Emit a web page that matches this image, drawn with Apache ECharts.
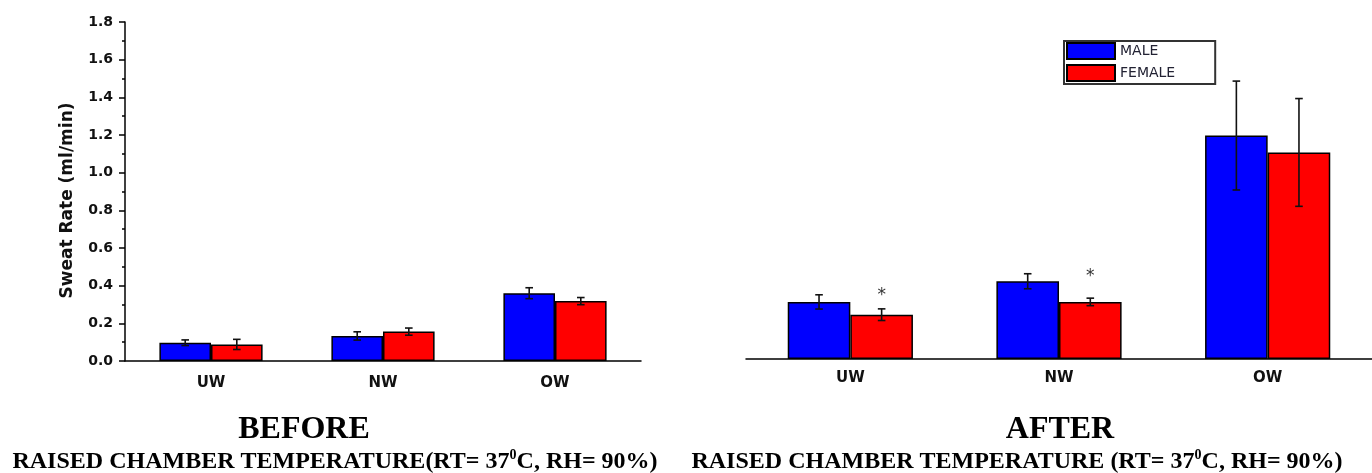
<!DOCTYPE html>
<html>
<head>
<meta charset="utf-8">
<script src="https://cdn.jsdelivr.net/npm/echarts@6/dist/echarts.min.js"></script>
<style>html,body{margin:0;padding:0;background:#fff}#chart{width:1372px;height:473px}</style>
</head>
<body>
<div id="chart"></div>
<script>
// ---- data ----
var categories = ['UW', 'NW', 'OW'];
var seriesNames = ['MALE', 'FEMALE'];
var beforeMale = [0.097, 0.133, 0.36];
var beforeMaleErr = [0.015, 0.022, 0.029];
var beforeFemale = [0.088, 0.156, 0.318];
var beforeFemaleErr = [0.027, 0.019, 0.019];
var afterMale = [0.304, 0.414, 1.19];
var afterMaleErr = [0.038, 0.04, 0.29];
var afterFemale = [0.236, 0.304, 1.10];
var afterFemaleErr = [0.031, 0.02, 0.287];
var afterStarPos = [0.353, 0.453, null];
var yMin = 0, yMax = 1.8, yStep = 0.2;
var yAxisName = 'Sweat Rate (ml/min)';
var titleBefore = 'BEFORE';
var titleAfter = 'AFTER';
var subLeftA = 'RAISED CHAMBER TEMPERATURE(RT= 37', subRightA = 'RAISED CHAMBER TEMPERATURE (RT= 37';
var subSup = '0';
var subB = 'C, RH= 90%)';

// ---- helpers ----
var BLUE = '#0000ff', RED = '#ff0000';
function errData(vals, errs) { return vals.map(function (v, i) { return [i, v, errs[i]]; }); }
function errRender(side) {
  return function (params, api) {
    var i = api.value(0), v = api.value(1), e = api.value(2);
    var bw = api.size([1, 0])[0];
    var x = api.coord([i, v])[0] + side * bw * 0.15;
    var yt = api.coord([i, v + e])[1];
    var yb = api.coord([i, v - e])[1];
    var c = 3.8;
    var st = { stroke: '#111', lineWidth: 1.6 };
    return { type: 'group', children: [
      { type: 'line', shape: { x1: x, y1: yt, x2: x, y2: yb }, style: st },
      { type: 'line', shape: { x1: x - c, y1: yt, x2: x + c, y2: yt }, style: st },
      { type: 'line', shape: { x1: x - c, y1: yb, x2: x + c, y2: yb }, style: st }
    ] };
  };
}
function starRender(params, api) {
  var i = api.value(0), v = api.value(1);
  var bw = api.size([1, 0])[0];
  var p = api.coord([i, v]);
  return { type: 'text', x: p[0] + bw * 0.15, y: p[1] + 3,
    style: { text: '*', fontSize: 17, fontFamily: 'DejaVu Sans', fill: '#333', align: 'center', verticalAlign: 'middle' } };
}
var starData = [];
afterStarPos.forEach(function (v, i) { if (v != null) starData.push([i, v]); });

var axisLineStyle = { color: '#000', width: 1.5 };
var xLabel = { fontFamily: 'DejaVu Sans', fontWeight: 'bold', fontSize: 15, color: '#111' };
function xMain(g, margin) {
  return { gridIndex: g, type: 'category', data: categories,
    axisLine: { lineStyle: axisLineStyle },
    axisTick: { alignWithLabel: true, length: 7, lineStyle: axisLineStyle },
    axisLabel: Object.assign({ margin: margin }, xLabel), splitLine: { show: false } };
}
function xMinor(g) {
  return { gridIndex: g, type: 'category', data: categories, position: 'bottom',
    axisLine: { show: false }, axisTick: { length: 2.5, lineStyle: axisLineStyle },
    axisLabel: { show: false }, splitLine: { show: false } };
}
var barStyle = function (c) { return { color: c, borderColor: '#000', borderWidth: 1.5 }; };

var sub = function (a) {
  return '{a|' + a + '}{s|' + subSup + '}{a|' + subB + '}';
};
var subRich = {
  a: { fontSize: 24, fontWeight: 'bold', fontFamily: 'Liberation Serif', fill: '#000', verticalAlign: 'bottom', lineHeight: 26 },
  s: { fontSize: 14, fontWeight: 'bold', fontFamily: 'Liberation Serif', fill: '#000', verticalAlign: 'top', lineHeight: 14 }
};

var option = {
  animation: false,
  backgroundColor: '#fff',
  grid: [
    { left: 125, top: 22, width: 516, height: 339 },
    { left: 746, top: 21, width: 633, height: 338 }
  ],
  legend: {
    data: seriesNames, orient: 'vertical', left: 1064, top: 41,
    itemWidth: 48, itemHeight: 16, itemGap: 4, icon: 'rect',
    padding: [1, 40, 2, 2], borderColor: '#333', borderWidth: 2,
    textStyle: { fontFamily: 'DejaVu Sans', fontSize: 14, color: '#223' }
  },
  xAxis: [xMain(0, 15), xMinor(0), xMain(1, 12), xMinor(1)],
  yAxis: [
    { gridIndex: 0, type: 'value', min: yMin, max: yMax, interval: yStep,
      name: yAxisName, nameLocation: 'middle', nameGap: 49,
      nameTextStyle: { fontFamily: 'DejaVu Sans', fontWeight: 'bold', fontSize: 17, color: '#111', padding: [0, 18, 0, 0] },
      axisLine: { show: true, lineStyle: axisLineStyle },
      axisTick: { show: true, length: 6, lineStyle: axisLineStyle },
      minorTick: { show: true, splitNumber: 2, length: 3, lineStyle: axisLineStyle },
      splitLine: { show: false },
      axisLabel: { margin: 12, fontFamily: 'DejaVu Sans', fontWeight: 'bold', fontSize: 14, color: '#111',
        formatter: function (v) { return v.toFixed(1); } } },
    { gridIndex: 1, type: 'value', min: yMin, max: yMax, interval: yStep, show: false, splitLine: { show: false } }
  ],
  series: [
    { name: seriesNames[0], type: 'bar', xAxisIndex: 0, yAxisIndex: 0, data: beforeMale, barGap: '0%', barCategoryGap: '40%', itemStyle: barStyle(BLUE) },
    { name: seriesNames[1], type: 'bar', xAxisIndex: 0, yAxisIndex: 0, data: beforeFemale, barGap: '0%', barCategoryGap: '40%', itemStyle: barStyle(RED) },
    { name: seriesNames[0], type: 'bar', xAxisIndex: 2, yAxisIndex: 1, data: afterMale, barGap: '0%', barCategoryGap: '40%', itemStyle: barStyle(BLUE) },
    { name: seriesNames[1], type: 'bar', xAxisIndex: 2, yAxisIndex: 1, data: afterFemale, barGap: '0%', barCategoryGap: '40%', itemStyle: barStyle(RED) },
    { type: 'custom', xAxisIndex: 0, yAxisIndex: 0, z: 5, data: errData(beforeMale, beforeMaleErr), renderItem: errRender(-1), encode: { x: 0, y: 1 } },
    { type: 'custom', xAxisIndex: 0, yAxisIndex: 0, z: 5, data: errData(beforeFemale, beforeFemaleErr), renderItem: errRender(1), encode: { x: 0, y: 1 } },
    { type: 'custom', xAxisIndex: 2, yAxisIndex: 1, z: 5, data: errData(afterMale, afterMaleErr), renderItem: errRender(-1), encode: { x: 0, y: 1 } },
    { type: 'custom', xAxisIndex: 2, yAxisIndex: 1, z: 5, data: errData(afterFemale, afterFemaleErr), renderItem: errRender(1), encode: { x: 0, y: 1 } },
    { type: 'custom', xAxisIndex: 2, yAxisIndex: 1, z: 5, data: starData, renderItem: starRender, encode: { x: 0, y: 1 } }
  ],
  graphic: [
    { type: 'text', x: 304, y: 430, style: { text: titleBefore, fontSize: 32, fontWeight: 'bold', fontFamily: 'Liberation Serif', fill: '#000', align: 'center', verticalAlign: 'middle' } },
    { type: 'text', x: 1060, y: 430, style: { text: titleAfter, fontSize: 32, fontWeight: 'bold', fontFamily: 'Liberation Serif', fill: '#000', align: 'center', verticalAlign: 'middle' } },
    { type: 'text', x: 335, y: 461, style: { text: sub(subLeftA), rich: subRich, align: 'center', verticalAlign: 'middle' } },
    { type: 'text', x: 1017, y: 461, style: { text: sub(subRightA), rich: subRich, align: 'center', verticalAlign: 'middle' } }
  ]
};
var chart = echarts.init(document.getElementById('chart'), null, { renderer: 'canvas' });
chart.setOption(option);
</script>
</body>
</html>
